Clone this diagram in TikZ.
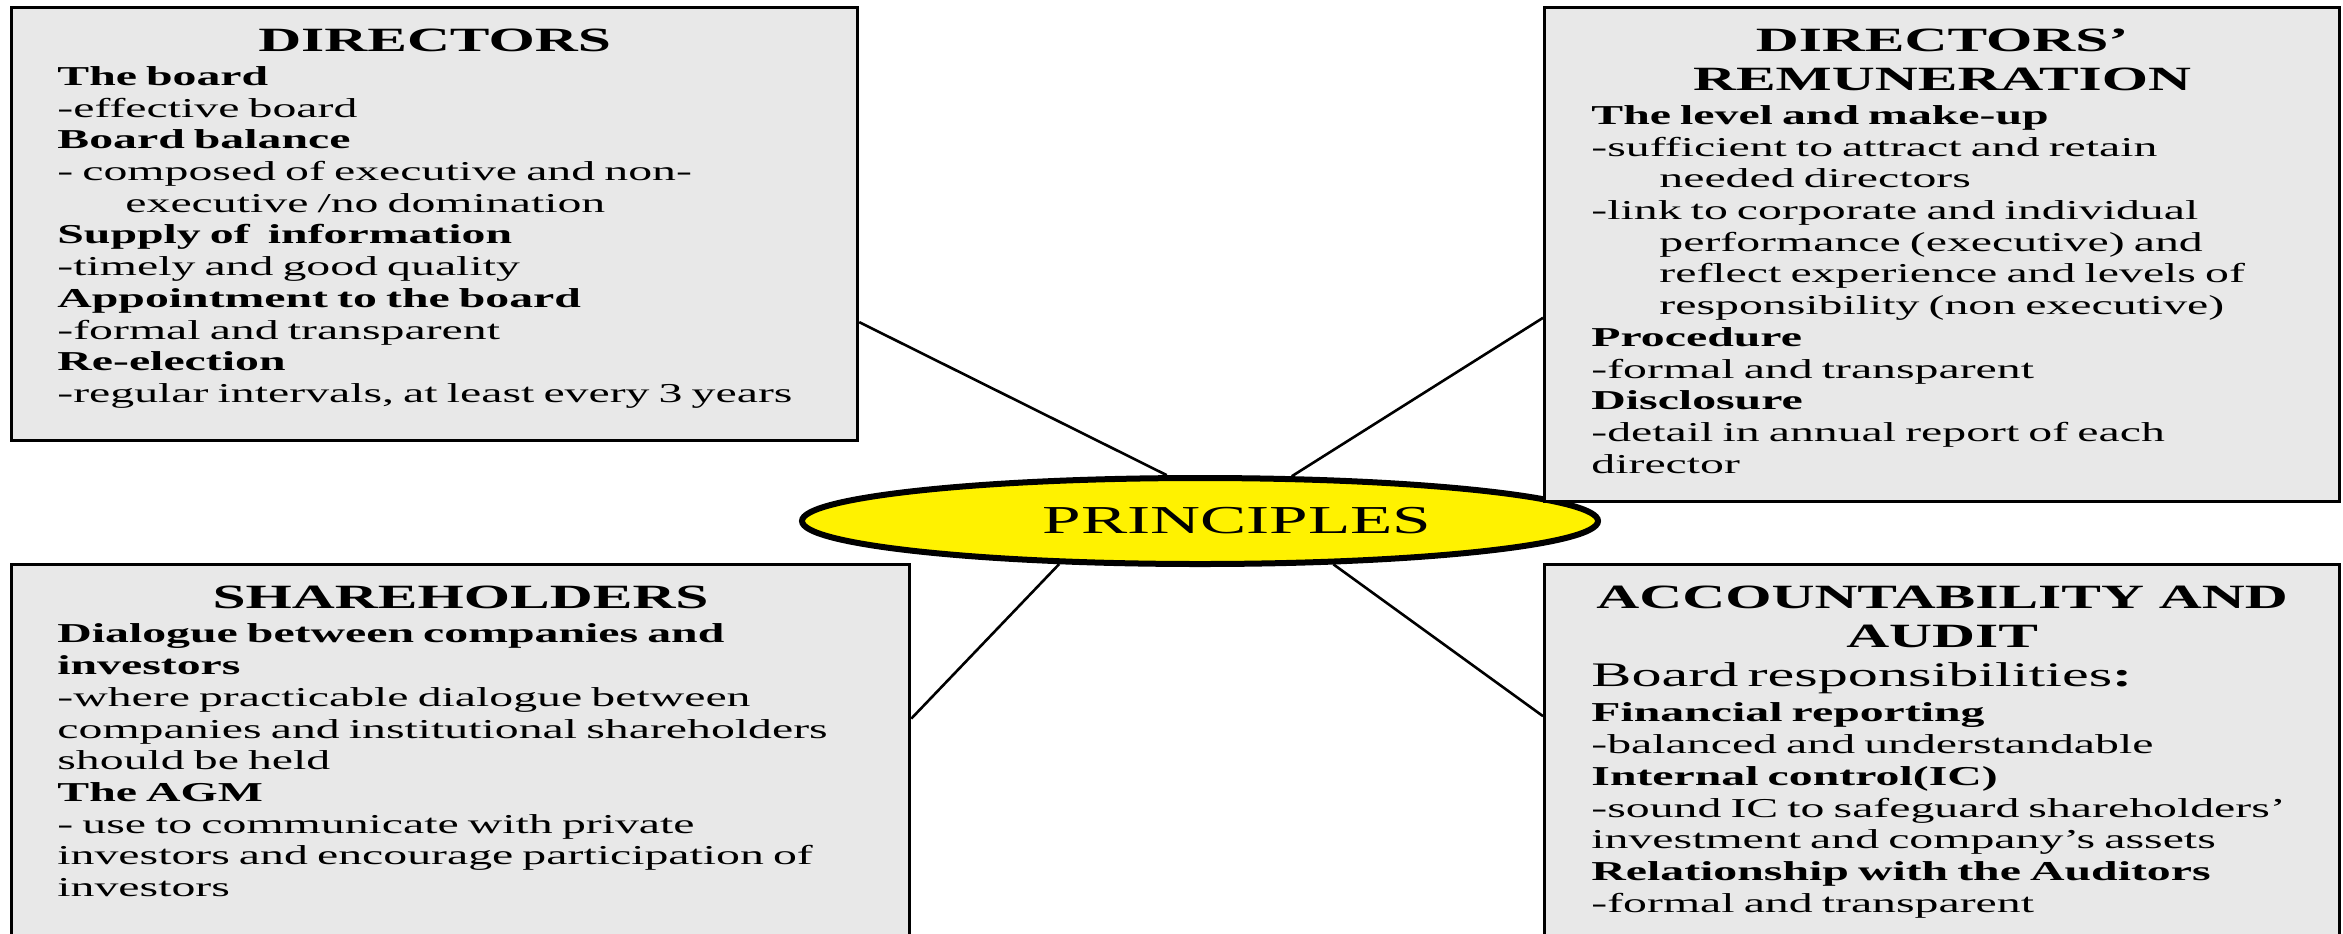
\documentclass[tikz,border=0pt]{standalone}
\usepackage{fontspec}
\setmainfont{Liberation Serif}[FakeStretch=1.75]
\usetikzlibrary{shapes.geometric}
\definecolor{panelgray}{HTML}{E8E8E8}
\setlength{\parindent}{0pt}
\newcommand{\headfont}{\fontsize{17}{19.5}\selectfont\bfseries}
\newcommand{\bodyfont}{\fontsize{13.65}{15.85}\selectfont}
\newcommand{\indentline}{\hspace*{34pt}}

\begin{document}
\begin{tikzpicture}[x=0.5pt,y=-0.5pt,
		panel/.style={draw,line width=1.6pt,fill=panelgray,anchor=north west,inner sep=0pt},
		paneltitle/.style={anchor=north,inner sep=0pt,align=center,font=\headfont},
		panelbody/.style={anchor=north west,inner sep=0pt,text width=440pt,align=left,font=\bodyfont},
		spoke/.style={line width=1.3pt}]
		\useasboundingbox (0,0) rectangle (2343,933);
		\clip (0,0) rectangle (2343,933);
		%principles
		\node[ellipse,draw,line width=3pt,fill=yellow,minimum width=398pt,minimum height=43pt,inner sep=0pt] (prin) at (1200,521) {\hspace*{37pt}\fontsize{19.8}{22}\selectfont PRINCIPLES};
		%directors
		\node[panel,minimum width=423pt,minimum height=216.5pt] (dir) at (10,6) {};
		\node[paneltitle] (dirtitle) at ([yshift=-7.5pt]dir.north) {\rule{0pt}{15pt}DIRECTORS};
		\node[panelbody] (dirtext) at (57,61) {\rule{0pt}{12pt}\textbf{The board}\\
			-effective board\\
			\textbf{Board balance}\\
			- composed of executive and non-\\
			\indentline executive /no domination\\
			\textbf{Supply of\ \ information}\\
			-timely and good quality\\
			\textbf{Appointment to the board}\\
			-formal and transparent\\
			\textbf{Re-election}\\
			-regular intervals, at least every 3 years};
		%directors' remuneration
		\node[panel,minimum width=397.5pt,minimum height=247pt] (rem) at (1543,6) {};
		\node[paneltitle] (remtitle) at ([yshift=-7.5pt]rem.north) {\rule{0pt}{15pt}DIRECTORS’\\REMUNERATION};
		\node[panelbody] (remtext) at (1591,100) {\rule{0pt}{12pt}\textbf{The level and make-up}\\
			-sufficient to attract and retain\\
			\indentline needed directors\\
			-link to corporate and individual\\
			\indentline performance (executive) and\\
			\indentline reflect experience and levels of\\
			\indentline responsibility (non executive)\\
			\textbf{Procedure}\\
			-formal and transparent\\
			\textbf{Disclosure}\\
			-detail in annual report of each\\
			director};
		%shareholders
		\node[panel,minimum width=449pt,minimum height=193.5pt] (sha) at (10,563) {};
		\node[paneltitle] (shatitle) at ([yshift=-7.5pt]sha.north) {\rule{0pt}{15pt}SHAREHOLDERS};
		\node[panelbody] (shatext) at (57,618.5) {\rule{0pt}{12pt}\textbf{Dialogue between companies and}\\
			\textbf{investors}\\
			-where practicable dialogue between\\
			companies and institutional shareholders\\
			should be held\\
			\textbf{The AGM}\\
			- use to communicate with private\\
			investors and encourage participation of\\
			investors};
		%accountability and audit
		\node[panel,minimum width=397.5pt,minimum height=193.5pt] (acc) at (1543,563) {};
		\node[paneltitle] (acctitle) at ([yshift=-7.5pt]acc.north) {\rule{0pt}{15pt}ACCOUNTABILITY AND\\AUDIT};
		\node[panelbody] (acctext) at (1591,662) {{\fontsize{17.2}{19.5}\selectfont\rule{0pt}{12pt}Board responsibilities\textbf{:}\par}\vspace{1.9pt}
			\textbf{Financial reporting}\\
			-balanced and understandable\\
			\textbf{Internal control(IC)}\\
			-sound IC to safeguard shareholders’\\
			investment and company’s assets\\
			\textbf{Relationship with the Auditors}\\
			-formal and transparent};
		%spokes
		\draw[spoke] (dir.347.4) -- (prin.126);
		\draw[spoke] (prin.26.6) -- (rem.189.2);
		\draw[spoke] (sha.5) -- (prin.197.3);
		\draw[spoke] (prin.342.1) -- (acc.174.3);
	\end{tikzpicture}
\end{document}
